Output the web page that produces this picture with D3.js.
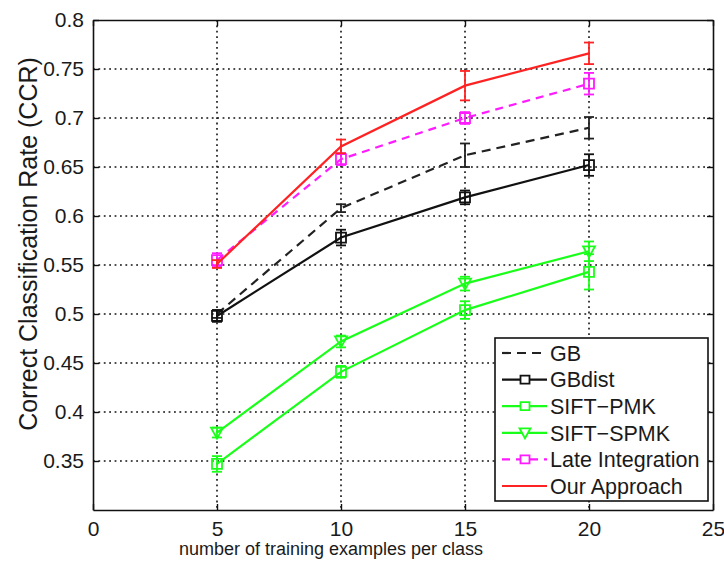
<!DOCTYPE html>
<html>
<head>
<meta charset="utf-8">
<script src="https://d3js.org/d3.v7.min.js"></script>
<style>
    body { margin: 0; background: #fff; }
    svg text { font-family: 'Liberation Sans', Arial, sans-serif; fill: #1a1a1a; }
</style>
</head>
<body>
<div id="chart"></div>
<script>
// Training examples per class
const xValues = [5, 10, 15, 20];

// CCR values for each method
const gbValues = [0.500, 0.608, 0.662, 0.690];
const gbErr = [0.004, 0.004, 0.012, 0.011];
const gbdistValues = [0.498, 0.578, 0.619, 0.652];
const gbdistErr = [0.006, 0.008, 0.007, 0.011];
const pmkValues = [0.347, 0.441, 0.504, 0.543];
const pmkErr = [0.008, 0.006, 0.009, 0.018];
const spmkValues = [0.379, 0.472, 0.531, 0.564];
const spmkErr = [0.005, 0.006, 0.007, 0.010];
const lateValues = [0.555, 0.658, 0.700, 0.735];
const lateErr = [0.007, 0.006, 0.006, 0.011];
const oursValues = [0.551, 0.671, 0.733, 0.766];
const oursErr = [0.004, 0.007, 0.015, 0.011];

const xTicks = [0, 5, 10, 15, 20, 25];
const yTicks = [0.35, 0.4, 0.45, 0.5, 0.55, 0.6, 0.65, 0.7, 0.75, 0.8];

const series = [
    { name: 'GB', values: gbValues, err: gbErr, color: '#222', dash: '9,6', marker: null },
    { name: 'GBdist', values: gbdistValues, err: gbdistErr, color: '#111', dash: null, marker: 'square' },
    { name: 'SIFT\u2212PMK', values: pmkValues, err: pmkErr, color: '#1aff1a', dash: null, marker: 'square' },
    { name: 'SIFT\u2212SPMK', values: spmkValues, err: spmkErr, color: '#1aff1a', dash: null, marker: 'triangle' },
    { name: 'Late Integration', values: lateValues, err: lateErr, color: '#ff1aff', dash: '8,6', marker: 'square' },
    { name: 'Our Approach', values: oursValues, err: oursErr, color: '#ff2222', dash: null, marker: null }
];

const margin = { top: 20, right: 11, bottom: 51, left: 93 };
const width = 724 - margin.left - margin.right;
const height = 561 - margin.top - margin.bottom;

const svg = d3.select('#chart')
    .append('svg')
    .attr('width', 724)
    .attr('height', 561);

const g = svg.append('g')
    .attr('transform', `translate(${margin.left},${margin.top})`);

const xScale = d3.scaleLinear().domain([0, 25]).range([0, width]);
const yScale = d3.scaleLinear().domain([0.3, 0.8]).range([height, 0]);

// Dotted grid
g.selectAll('.xgrid')
    .data(xTicks.slice(1, -1))
    .enter()
    .append('line')
    .attr('x1', (d) => xScale(d))
    .attr('x2', (d) => xScale(d))
    .attr('y1', 0)
    .attr('y2', height)
    .attr('stroke', '#111')
    .attr('stroke-width', 1.6)
    .attr('stroke-dasharray', '1.8,3.6');

g.selectAll('.ygrid')
    .data(yTicks.slice(0, -1))
    .enter()
    .append('line')
    .attr('x1', 0)
    .attr('x2', width)
    .attr('y1', (d) => yScale(d))
    .attr('y2', (d) => yScale(d))
    .attr('stroke', '#111')
    .attr('stroke-width', 1.6)
    .attr('stroke-dasharray', '1.8,3.6');

// Axes (ticks pointing inwards)
const xAxis = g.append('g')
    .attr('transform', `translate(0,${height})`)
    .call(d3.axisBottom(xScale).tickValues(xTicks).tickSizeInner(-6).tickSizeOuter(0).tickPadding(11));

const yAxis = g.append('g')
    .call(d3.axisLeft(yScale).tickValues(yTicks).tickSizeInner(-6).tickSizeOuter(0).tickPadding(9)
        .tickFormat((d) => String(+d.toFixed(2))));

const xAxisTop = g.append('g')
    .call(d3.axisTop(xScale).tickValues(xTicks).tickSizeInner(-6).tickSizeOuter(0).tickFormat(''));

const yAxisRight = g.append('g')
    .attr('transform', `translate(${width},0)`)
    .call(d3.axisRight(yScale).tickValues(yTicks).tickSizeInner(-6).tickSizeOuter(0).tickFormat(''));

[xAxis, yAxis, xAxisTop, yAxisRight].forEach((ax) => {
    ax.selectAll('path').attr('stroke', '#111').attr('stroke-width', 1.6);
    ax.selectAll('line').attr('stroke', '#111').attr('stroke-width', 1.4);
    ax.selectAll('text')
        .style('font-size', '21px')
        .style('fill', '#1a1a1a');
});

// Lines
const line = d3.line()
    .x((d, i) => xScale(xValues[i]))
    .y((d) => yScale(d));

series.forEach((s) => {
    const sg = g.append('g').attr('class', 'series');

    sg.append('path')
        .datum(s.values)
        .attr('fill', 'none')
        .attr('stroke', s.color)
        .attr('stroke-width', 2.2)
        .attr('stroke-dasharray', s.dash)
        .attr('d', line);

    // Error bars
    const eb = sg.selectAll('.err')
        .data(s.values)
        .enter()
        .append('g');

    eb.append('line')
        .attr('x1', (d, i) => xScale(xValues[i]))
        .attr('x2', (d, i) => xScale(xValues[i]))
        .attr('y1', (d, i) => yScale(d - s.err[i]))
        .attr('y2', (d, i) => yScale(d + s.err[i]))
        .attr('stroke', s.color)
        .attr('stroke-width', 1.8);

    [-1, 1].forEach((sign) => {
        eb.append('line')
            .attr('x1', (d, i) => xScale(xValues[i]) - 5)
            .attr('x2', (d, i) => xScale(xValues[i]) + 5)
            .attr('y1', (d, i) => yScale(d + sign * s.err[i]))
            .attr('y2', (d, i) => yScale(d + sign * s.err[i]))
            .attr('stroke', s.color)
            .attr('stroke-width', 1.8);
    });

    // Markers
    if (s.marker) {
        sg.selectAll('.marker')
            .data(s.values)
            .enter()
            .append('path')
            .attr('transform', (d, i) => `translate(${xScale(xValues[i])},${yScale(d)})`)
            .attr('d', s.marker === 'square' ? 'M-5,-5H5V5H-5Z' : 'M-6,-5H6L0,6Z')
            .attr('fill', 'none')
            .attr('stroke', s.color)
            .attr('stroke-width', 1.8);
    }
});

// Legend
const legend = g.append('g')
    .attr('transform', `translate(${495 - margin.left},${338 - margin.top})`);

legend.append('rect')
    .attr('width', 213)
    .attr('height', 163)
    .attr('fill', '#fff')
    .attr('stroke', '#111')
    .attr('stroke-width', 1.6);

const rows = legend.selectAll('.row')
    .data(series)
    .enter()
    .append('g')
    .attr('transform', (d, i) => `translate(0,${15 + i * 26.6})`);

rows.append('line')
    .attr('x1', 7)
    .attr('x2', 52)
    .attr('stroke', (d) => d.color)
    .attr('stroke-width', 2.2)
    .attr('stroke-dasharray', (d) => d.dash);

rows.filter((d) => d.marker)
    .append('path')
    .attr('transform', 'translate(30,0)')
    .attr('d', (d) => (d.marker === 'square' ? 'M-4.5,-4H4.5V4H-4.5Z' : 'M-5.5,-4.5H5.5L0,5.5Z'))
    .attr('fill', '#fff')
    .attr('stroke', (d) => d.color)
    .attr('stroke-width', 1.8);

rows.append('text')
    .attr('x', 55)
    .attr('dy', '0.36em')
    .style('font-size', '21.5px')
    .text((d) => d.name);

// Axis labels
svg.append('text')
    .attr('x', 331)
    .attr('y', 555)
    .attr('text-anchor', 'middle')
    .style('font-size', '18px')
    .text('number of training examples per class');

svg.append('text')
    .attr('transform', 'rotate(-90)')
    .attr('x', -244)
    .attr('y', 37)
    .attr('text-anchor', 'middle')
    .style('font-size', '25px')
    .text('Correct Classification Rate (CCR)');
</script>
</body>
</html>
